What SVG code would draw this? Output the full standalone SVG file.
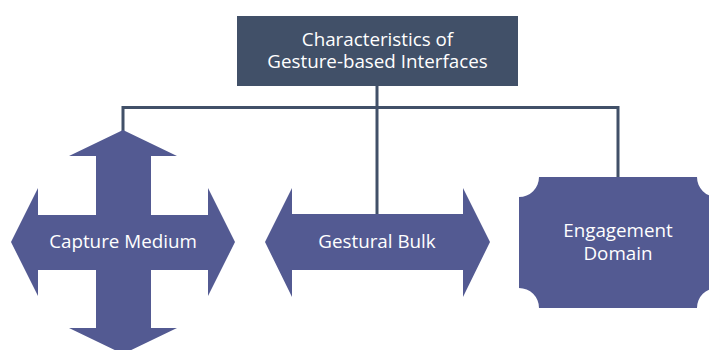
<svg xmlns="http://www.w3.org/2000/svg" width="709" height="350" viewBox="0 0 709 350">
<style>
.shape{fill:#535a92}
.top{fill:#415068}
.lbl{font-family:"Open Sans","Liberation Sans",sans-serif;font-size:18.8px;fill:#ffffff;text-anchor:middle}
.conn{stroke:#415068;stroke-width:3;fill:none}
</style>
<rect width="709" height="350" fill="#ffffff"/>
<g id="connectors">
<path class="conn" d="M377 86 V214"/>
<path class="conn" d="M123 131 V107.5 H618 V177"/>
</g>
<g id="root">
<rect class="top" x="237" y="16" width="281" height="70"/>
<text class="lbl"><tspan x="377.5" y="46">Characteristics of</tspan><tspan x="377.5" y="68">Gesture-based Interfaces</tspan></text>
</g>
<g id="capture-medium">
<path class="shape" d="M123 130 L177 156 L151 156 L151 215 L208 215 L208 188 L235 242 L208 296 L208 270 L151 270 L151 328 L177 328 L123 354 L69 328 L96 328 L96 270 L38 270 L38 296 L11 242 L38 188 L38 215 L96 215 L96 156 L69 156 Z"/>
<text class="lbl" x="123" y="248">Capture Medium</text>
</g>
<g id="gestural-bulk">
<path class="shape" d="M265 242 L292 188 L292 214 L463 214 L463 188 L490 242 L463 297 L463 270 L292 270 L292 297 Z"/>
<text class="lbl" x="377" y="248">Gestural Bulk</text>
</g>
<g id="engagement-domain">
<path class="shape" d="M539 177 H697 A20 20 0 0 0 717 197 V288 A20 20 0 0 0 697 308 H539 A20 20 0 0 0 519 288 V197 A20 20 0 0 0 539 177 Z"/>
<text class="lbl"><tspan x="618" y="237">Engagement</tspan><tspan x="618" y="260">Domain</tspan></text>
</g>
</svg>
